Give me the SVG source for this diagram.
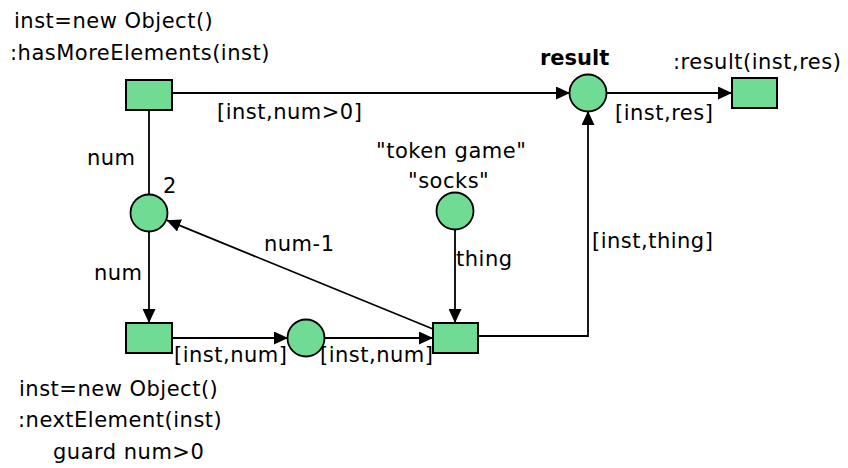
<svg xmlns="http://www.w3.org/2000/svg" width="848" height="468" viewBox="0 0 848 468">
<style>
.pl{fill:#70db93;stroke:#000;stroke-width:1.8}
.tr{fill:#70db93;stroke:#000;stroke-width:2}
.ar{fill:none;stroke:#000;stroke-width:1.8}
text{font-family:"DejaVu Sans",Verdana,sans-serif;font-size:21px;letter-spacing:0.5px;fill:#000}
.b{font-weight:bold;letter-spacing:0}
</style>
<defs>
<marker id="ah" markerUnits="userSpaceOnUse" markerWidth="15" markerHeight="13" refX="14" refY="6.5" orient="auto">
<path d="M0,0 L14,6.5 L0,13 z" fill="#000"/>
</marker>
</defs>
<rect width="848" height="468" fill="#fff"/>
<g id="connectors">
<line class="ar" x1="172" y1="93" x2="570" y2="93" marker-end="url(#ah)"/>
<line class="ar" x1="607" y1="93" x2="732" y2="93" marker-end="url(#ah)"/>
<line class="ar" x1="149" y1="110" x2="149" y2="194"/>
<line class="ar" x1="149" y1="232" x2="149" y2="323" marker-end="url(#ah)"/>
<line class="ar" x1="172" y1="338" x2="288" y2="338" marker-end="url(#ah)"/>
<line class="ar" x1="325" y1="338" x2="433" y2="338" marker-end="url(#ah)"/>
<line class="ar" x1="455" y1="230" x2="455" y2="323" marker-end="url(#ah)"/>
<polyline class="ar" points="478,336 588,336 588,111" marker-end="url(#ah)"/>
<line class="ar" x1="433" y1="329" x2="166.6" y2="220.2" marker-end="url(#ah)"/>
<text x="217" y="119">[inst,num&gt;0]</text>
<text x="615" y="120">[inst,res]</text>
<text x="87" y="165">num</text>
<text x="94" y="280">num</text>
<text x="264" y="251">num-1</text>
<text x="456" y="266">thing</text>
<text x="592" y="248">[inst,thing]</text>
<text x="174" y="362">[inst,num]</text>
<text x="320" y="362">[inst,num]</text>
</g>
<g id="t_hasMore">
<rect class="tr" x="126" y="80" width="46" height="30"/>
<text x="14" y="28">inst=new Object()</text>
<text x="10" y="60">:hasMoreElements(inst)</text>
</g>
<g id="p_result">
<circle class="pl" cx="588" cy="93" r="18.5"/>
<text class="b" x="540" y="65">result</text>
</g>
<g id="t_result">
<rect class="tr" x="732" y="78" width="45" height="30"/>
<text x="673" y="69">:result(inst,res)</text>
</g>
<g id="p_num">
<circle class="pl" cx="149" cy="213" r="18.5"/>
<text x="163" y="193">2</text>
</g>
<g id="p_socks">
<circle class="pl" cx="455" cy="211" r="18.5"/>
<text x="376" y="158">"token game"</text>
<text x="408" y="188">"socks"</text>
</g>
<g id="t_next">
<rect class="tr" x="126" y="323" width="46" height="30"/>
<text x="19" y="396">inst=new Object()</text>
<text x="18" y="427">:nextElement(inst)</text>
<text x="53" y="459">guard num&gt;0</text>
</g>
<g id="p_mid">
<circle class="pl" cx="306" cy="338" r="18.5"/>
</g>
<g id="t_game">
<rect class="tr" x="433" y="323" width="45" height="30"/>
</g>
</svg>
